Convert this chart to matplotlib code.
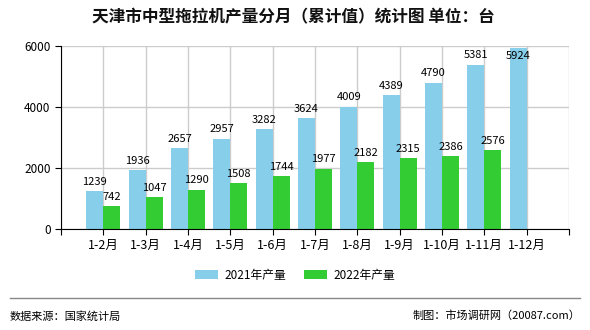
import matplotlib
matplotlib.use('Agg')
import matplotlib.pyplot as plt
from matplotlib.lines import Line2D

plt.rcParams['font.family'] = ['Noto Sans CJK SC', 'DejaVu Sans']

# data
months = ['1-2月', '1-3月', '1-4月', '1-5月', '1-6月', '1-7月', '1-8月', '1-9月', '1-10月', '1-11月', '1-12月']
output_2021 = [1239, 1936, 2657, 2957, 3282, 3624, 4009, 4389, 4790, 5381, 5924]
output_2022 = [742, 1047, 1290, 1508, 1744, 1977, 2182, 2315, 2386, 2576, None]

c2021 = '#87CEEB'
c2022 = '#33CC33'
w = 0.4

fig = plt.figure(figsize=(5.9, 3.3), dpi=100)
ax = fig.add_axes([61 / 590, 101 / 330, 508 / 590, 183.3 / 330])

x = list(range(1, len(months) + 1))
b1 = ax.bar([i - w / 2 for i in x], output_2021, width=w, color=c2021, label='2021年产量', zorder=2)
x22 = [i for i, v in zip(x, output_2022) if v is not None]
v22 = [v for v in output_2022 if v is not None]
b2 = ax.bar([i + w / 2 for i in x22], v22, width=w, color=c2022, label='2022年产量', zorder=2)

# value labels
for i, v in zip(x, output_2021):
    if v > 5700:
        ax.annotate(str(v), (i - w / 2, v), xytext=(0, -2), textcoords='offset points',
                    ha='center', va='top', fontsize=8, zorder=3)
    else:
        ax.annotate(str(v), (i - w / 2, v), xytext=(0, 3), textcoords='offset points',
                    ha='center', va='bottom', fontsize=8, zorder=3)
for i, v in zip(x22, v22):
    ax.annotate(str(v), (i + w / 2, v), xytext=(0, 3), textcoords='offset points',
                ha='center', va='bottom', fontsize=8, zorder=3)

ax.set_xlim(0, len(months) + 1)
ax.set_ylim(0, 6000)
ax.set_yticks([0, 2000, 4000, 6000])
ax.set_xticks(range(0, len(months) + 2))
ax.set_xticklabels([''] + months + [''])
ax.tick_params(axis='x', labelsize=9, length=4, color='black')
ax.tick_params(axis='y', labelsize=8.5, length=4, color='black')
ax.grid(True, color='#cccccc', linewidth=1, zorder=0)
ax.set_axisbelow(True)
for s in ['top', 'right']:
    ax.spines[s].set_visible(False)
ax.spines['left'].set_color('black')
ax.spines['bottom'].set_color('black')

fig.text(0.497, 0.948, '天津市中型拖拉机产量分月（累计值）统计图 单位：台',
         ha='center', va='center', fontsize=12, fontweight='bold', color='#111111')

fig.legend(handles=[b1, b2], loc='center', bbox_to_anchor=(0.5, 0.166), ncol=2,
           frameon=False, fontsize=8.5, handlelength=2.0, handleheight=0.8,
           columnspacing=1.5, handletextpad=0.5)

fig.add_artist(Line2D([10 / 590, 580 / 590], [32 / 330, 32 / 330], color='#888888', linewidth=1))
fig.text(10 / 590, 14 / 330, '数据来源：国家统计局', ha='left', va='center', fontsize=8)
fig.text(580 / 590, 14 / 330, '制图：市场调研网（20087.com）', ha='right', va='center', fontsize=8)

fig.savefig('out.png', dpi=100)
